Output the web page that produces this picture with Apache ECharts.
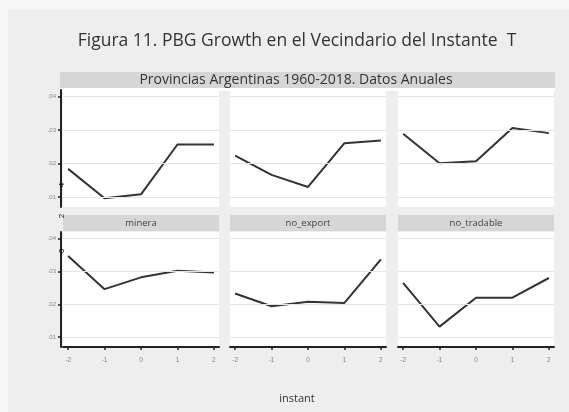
<!DOCTYPE html>
<html>
<head>
<meta charset="utf-8">
<script src="https://cdn.jsdelivr.net/npm/echarts@6/dist/echarts.min.js"></script>
<style>
html,body{margin:0;padding:0;background:#f6f6f6;}
#main{width:569px;height:412px;}
</style>
</head>
<body>
<div id="main"></div>
<script>
// ---- data ----
const titleText = 'Figura 11. PBG Growth en el Vecindario del Instante  T';
const subtitleText = 'Provincias Argentinas 1960-2018. Datos Anuales';
const xTitle = 'instant';
const instants = [-2, -1, 0, 1, 2];
const xTickLabels = ['-2', '-1', '0', '1', '2'];
const yTicks = [0.01, 0.02, 0.03, 0.04];
const yTickLabels = ['.01', '.02', '.03', '.04'];
const panelNames = ['', '', '', 'minera', 'no_export', 'no_tradable'];
const panel1 = [0.0184, 0.0096, 0.0108, 0.0257, 0.0257];
const panel2 = [0.0224, 0.0166, 0.0130, 0.0261, 0.0269];
const panel3 = [0.0289, 0.0201, 0.0207, 0.0306, 0.0291];
const minera = [0.0347, 0.0246, 0.0282, 0.0302, 0.0297];
const noExport = [0.0233, 0.0194, 0.0208, 0.0204, 0.0337];
const noTradable = [0.0265, 0.0132, 0.0220, 0.0220, 0.0280];
const panelValues = [panel1, panel2, panel3, minera, noExport, noTradable];

// ---- layout ----
const colLeft = [63, 230, 398];
const colWidth = 156;
const rowTop = [90, 232];
const rowHeight = [117, 115];
const yMin = 0.007, yMax = 0.042;

const chart = echarts.init(document.getElementById('main'), null, {renderer: 'canvas'});
const grids = [], xAxes = [], yAxes = [], series = [];
const graphics = [];

graphics.push({type: 'rect', shape: {x: 8, y: 10, width: 561, height: 402}, style: {fill: '#eeeeee'}, z: -10});
graphics.push({type: 'text', x: 297, y: 41, style: {text: titleText, font: '17.5px "Open Sans"', fill: '#333', align: 'center', verticalAlign: 'middle'}});
graphics.push({type: 'rect', shape: {x: 60, y: 72, width: 495, height: 16}, style: {fill: '#d6d6d6'}});
graphics.push({type: 'rect', shape: {x: 60, y: 88, width: 495, height: 3}, style: {fill: '#ffffff'}});
graphics.push({type: 'text', x: 296, y: 80, style: {text: subtitleText, font: '14px "Open Sans"', fill: '#333', align: 'center', verticalAlign: 'middle'}});
graphics.push({type: 'text', x: 297, y: 399, style: {text: xTitle, font: '11px "Open Sans"', fill: '#333', align: 'center', verticalAlign: 'middle'}});
// stray rotated characters seen along the left axis
[['4', 185], ['2', 216], ['0', 251]].forEach(function (s) {
  graphics.push({type: 'text', x: 62, y: s[1], rotation: Math.PI / 2, style: {text: s[0], font: '8px "Liberation Sans"', fill: '#111', align: 'center', verticalAlign: 'middle'}, z: 100});
});

for (let i = 0; i < 6; i++) {
  const r = Math.floor(i / 3), c = i % 3;
  grids.push({left: colLeft[c], top: rowTop[r], width: colWidth, height: rowHeight[r], show: true, backgroundColor: '#ffffff', borderWidth: 0});
  if (r === 1) {
    graphics.push({type: 'rect', shape: {x: colLeft[c], y: 215, width: colWidth, height: 16}, style: {fill: '#d6d6d6'}});
    graphics.push({type: 'text', x: colLeft[c] + colWidth / 2, y: 223, style: {text: panelNames[i], font: '9.5px "Open Sans"', fill: '#444', align: 'center', verticalAlign: 'middle'}});
  }
  xAxes.push({
    type: 'value', gridIndex: i, min: -2.14, max: 2.14,
    axisLine: {show: r === 1, onZero: false, lineStyle: {color: '#222', width: 2}},
    axisTick: {show: r === 1, customValues: instants, length: 3, lineStyle: {color: '#222', width: 1.5}},
    axisLabel: {show: r === 1, customValues: instants, formatter: function (v) { return xTickLabels[instants.indexOf(v)]; }, fontSize: 6.5, color: '#888', margin: 10},
    splitLine: {show: false}
  });
  yAxes.push({
    type: 'value', gridIndex: i, min: yMin, max: yMax, offset: 2,
    axisLine: {show: c === 0, onZero: false, lineStyle: {color: '#222', width: 2}},
    axisTick: {show: c === 0, customValues: yTicks, length: 3, lineStyle: {color: '#222', width: 1.5}},
    axisLabel: {show: c === 0, customValues: yTicks, formatter: function (v) { return yTickLabels[yTicks.indexOf(v)]; }, fontSize: 6, color: '#888', margin: 5},
    splitLine: {show: false}
  });
  series.push({
    type: 'line', xAxisIndex: i, yAxisIndex: i, data: [], z: 1, silent: true,
    markLine: {silent: true, symbol: ['none', 'none'], label: {show: false}, lineStyle: {color: '#e4e4e4', width: 1, type: 'solid'}, animation: false,
      data: yTicks.map(function (v) { return {yAxis: v}; })}
  });
  series.push({
    type: 'line', xAxisIndex: i, yAxisIndex: i, z: 3,
    data: instants.map(function (x, k) { return [x, panelValues[i][k]]; }),
    symbol: 'none', lineStyle: {color: '#333', width: 2}
  });
}

chart.setOption({
  animation: false,
  backgroundColor: '#f6f6f6',
  grid: grids, xAxis: xAxes, yAxis: yAxes, series: series,
  graphic: graphics
});
</script>
</body>
</html>
